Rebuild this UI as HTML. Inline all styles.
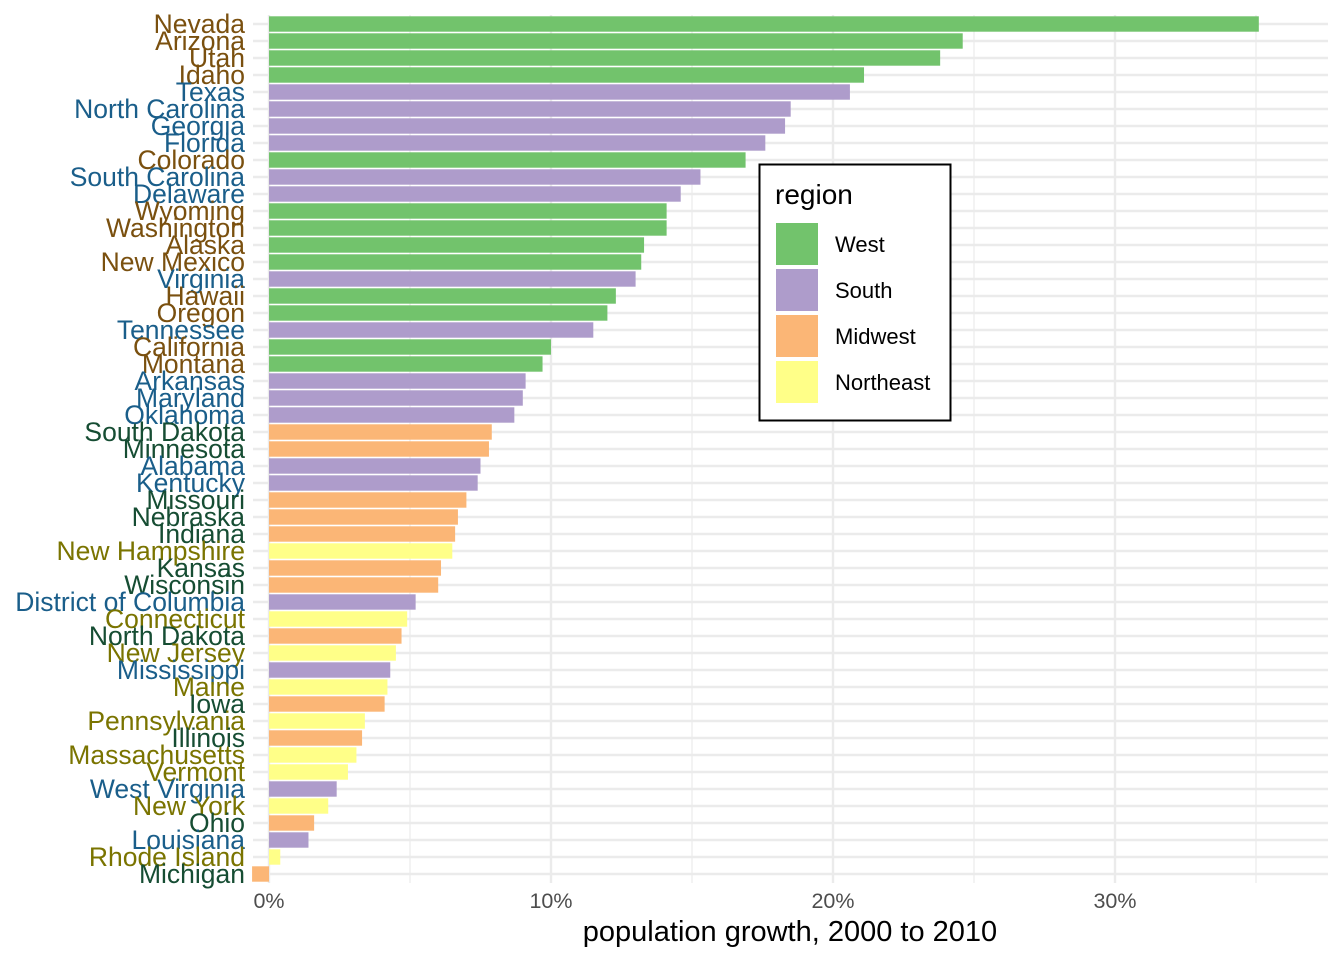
<!DOCTYPE html>
<html><head><meta charset="utf-8"><style>
html,body{margin:0;padding:0;background:#fff;}
svg{display:block;font-family:"Liberation Sans",Arial,sans-serif;}
</style></head><body>
<svg id="chart" width="1344" height="960" xmlns="http://www.w3.org/2000/svg">
<g id="grid"></g>
<g id="bars"></g>
<g id="ylabels"></g>
<g id="xticks"></g>
<text x="790" y="941" font-size="29" text-anchor="middle" fill="#000">population growth, 2000 to 2010</text>
<g id="legend">
<rect x="759.5" y="164.5" width="191" height="256" fill="#fff" stroke="#000" stroke-width="2"/>
<text x="775" y="204" font-size="28" fill="#000">region</text>
</g>
</svg>
<script>
const states = ["Nevada","Arizona","Utah","Idaho","Texas","North Carolina","Georgia","Florida","Colorado","South Carolina","Delaware","Wyoming","Washington","Alaska","New Mexico","Virginia","Hawaii","Oregon","Tennessee","California","Montana","Arkansas","Maryland","Oklahoma","South Dakota","Minnesota","Alabama","Kentucky","Missouri","Nebraska","Indiana","New Hampshire","Kansas","Wisconsin","District of Columbia","Connecticut","North Dakota","New Jersey","Mississippi","Maine","Iowa","Pennsylvania","Illinois","Massachusetts","Vermont","West Virginia","New York","Ohio","Louisiana","Rhode Island","Michigan"];
const growth = [35.1,24.6,23.8,21.1,20.6,18.5,18.3,17.6,16.9,15.3,14.6,14.1,14.1,13.3,13.2,13.0,12.3,12.0,11.5,10.0,9.7,9.1,9.0,8.7,7.9,7.8,7.5,7.4,7.0,6.7,6.6,6.5,6.1,6.0,5.2,4.9,4.7,4.5,4.3,4.2,4.1,3.4,3.3,3.1,2.8,2.4,2.1,1.6,1.4,0.4,-0.6];
const regions = ["West","West","West","West","South","South","South","South","West","South","South","West","West","West","West","South","West","West","South","West","West","South","South","South","Midwest","Midwest","South","South","Midwest","Midwest","Midwest","Northeast","Midwest","Midwest","South","Northeast","Midwest","Northeast","South","Northeast","Midwest","Northeast","Midwest","Northeast","Northeast","South","Northeast","Midwest","South","Northeast","Midwest"];
const xTicks = [0,10,20,30];
const xMinor = [5,15,25,35];
const legendRegions = ["West","South","Midwest","Northeast"];
const fillColor = {West:"#72c36c",South:"#ae9ccb",Midwest:"#fbb676",Northeast:"#ffff88"};
const labelColor = {West:"#7a500f",South:"#1a5e8a",Midwest:"#164d33",Northeast:"#7a7400"};
const NS="http://www.w3.org/2000/svg";
const xs = v => 269 + v*28.2;
const ys = i => 24 + i*17;
const pLeft=253,pRight=1328,pTop=15,pBottom=883;
function mk(tag,attrs,parent){const e=document.createElementNS(NS,tag);for(const k in attrs)e.setAttribute(k,attrs[k]);parent.appendChild(e);return e;}
const grid=document.getElementById('grid');
xMinor.forEach(v=>{const l=mk('line',{x1:xs(v),x2:xs(v),y1:pTop,y2:pBottom,stroke:'#ebebeb','stroke-width':1.2},grid);

});
xTicks.forEach(v=>{const l=mk('line',{x1:xs(v),x2:xs(v),y1:pTop,y2:pBottom,stroke:'#ebebeb','stroke-width':2.4},grid);

});
states.forEach((s,i)=>{const l=mk('line',{x1:pLeft,x2:pRight,y1:ys(i),y2:ys(i),stroke:'#ebebeb','stroke-width':2.4},grid);

});
const bars=document.getElementById('bars'), yl=document.getElementById('ylabels');
states.forEach((s,i)=>{
 const v=growth[i], r=regions[i];
 const x0=Math.min(xs(0),xs(v)), w=Math.abs(xs(v)-xs(0));
 const b=mk('rect',{x:x0,y:ys(i)-7.7,width:w,height:15.4,fill:fillColor[r]},bars);
 
 
 const t=mk('text',{x:245,y:ys(i)+9,'font-size':26.5,'text-anchor':'end',fill:labelColor[r]},yl);
 t.textContent=s;
 
 
});
const xt=document.getElementById('xticks');
xTicks.forEach(v=>{const t=mk('text',{x:xs(v),y:908,'font-size':21.5,'text-anchor':'middle',fill:'#4d4d4d'},xt);
t.textContent=v+'%';

});
const lg=document.getElementById('legend');
legendRegions.forEach((r,i)=>{
 const k=mk('rect',{x:776,y:223+i*46,width:42,height:42,fill:fillColor[r]},lg);
 
 
 const t=mk('text',{x:835,y:252+i*46,'font-size':22,fill:'#000'},lg);
 t.textContent=r;
 
 
});
</script>
</body></html>
